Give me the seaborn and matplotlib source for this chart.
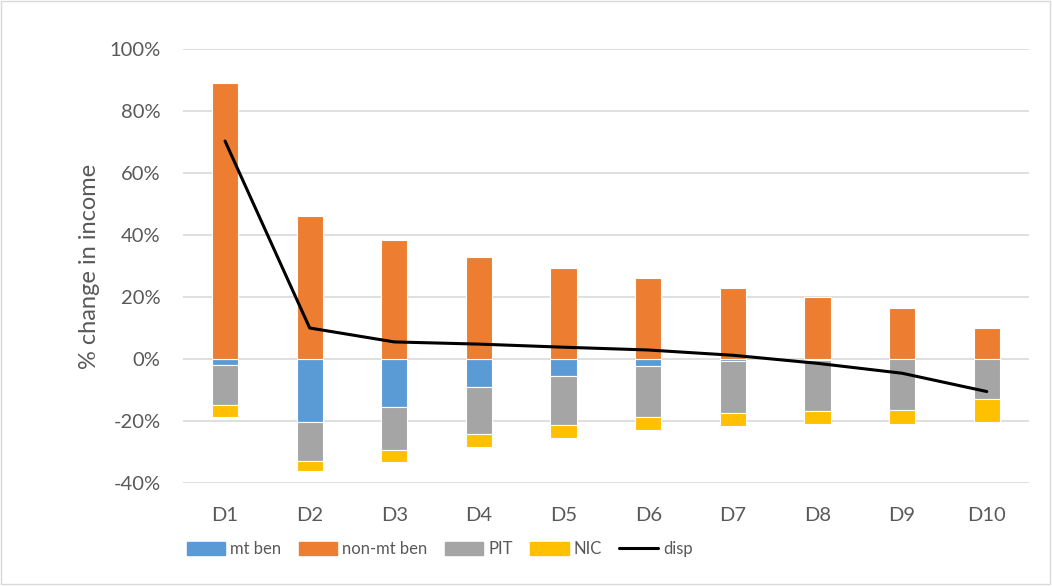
import numpy as np
import pandas as pd
import matplotlib
matplotlib.use("Agg")
import matplotlib.pyplot as plt
import matplotlib.patches as mpatches
import matplotlib.lines as mlines
import seaborn as sns
from matplotlib.ticker import FuncFormatter

# deciles and the % change in income per component
deciles = ["D1", "D2", "D3", "D4", "D5", "D6", "D7", "D8", "D9", "D10"]
mt_ben = [-2.0, -20.2, -15.5, -9.0, -5.5, -2.3, -0.6, -0.2, -0.1, -0.1]
non_mt_ben = [89.0, 46.0, 38.4, 33.0, 29.4, 26.0, 22.9, 19.9, 16.5, 9.9]
pit = [-12.8, -12.7, -13.9, -15.3, -15.8, -16.3, -16.7, -16.6, -16.4, -12.8]
nic = [-3.8, -3.1, -3.7, -4.0, -4.3, -4.3, -4.3, -4.3, -4.6, -7.5]
disp = [70.3, 10.0, 5.5, 4.8, 3.8, 2.9, 1.2, -1.4, -4.6, -10.5]

series_names = ["mt ben", "non-mt ben", "PIT", "NIC", "disp"]
colours = ["#5B9BD5", "#ED7D31", "#A5A5A5", "#FFC000", "#000000"]

sns.set_style("white")
plt.rcParams["font.family"] = ["Lato", "DejaVu Sans"]

fig = plt.figure(figsize=(10.52, 5.86), dpi=100)
ax = fig.add_axes([0.1737, 0.1758, 0.8045, 0.7406])

df = pd.DataFrame({"decile": deciles, "mt": mt_ben, "nonmt": non_mt_ben,
                   "pit": pit, "nic": nic, "disp": disp})
df["pit_base"] = df["mt"]
df["nic_base"] = df["mt"] + df["pit"]

bar_kw = dict(width=0.31, edgecolor="white", linewidth=0.8, saturation=1, ax=ax, zorder=2)
sns.barplot(data=df, x="decile", y="mt", color=colours[0], **bar_kw)
sns.barplot(data=df, x="decile", y="nonmt", color=colours[1], **bar_kw)
sns.barplot(data=df, x="decile", y="pit", bottom=df["pit_base"], color=colours[2], **bar_kw)
sns.barplot(data=df, x="decile", y="nic", bottom=df["nic_base"], color=colours[3], **bar_kw)
sns.lineplot(x=np.arange(len(deciles)), y=df["disp"], color=colours[4], linewidth=2.2,
             ax=ax, zorder=3)

ax.set_xlim(-0.5, len(deciles) - 0.5)
ax.set_ylim(-40, 100)
ax.set_yticks(np.arange(-40, 101, 20))
ax.yaxis.set_major_formatter(FuncFormatter(lambda v, p: f"{v:.0f}%"))
ax.grid(axis="y", color="#D9D9D9", linewidth=1.2, zorder=0)
ax.set_axisbelow(True)
for s in ax.spines.values():
    s.set_visible(False)
ax.tick_params(axis="both", length=0, labelsize=14.5, colors="#595959")
ax.tick_params(axis="y", pad=16)
ax.tick_params(axis="x", pad=17)
ax.set_xlabel("")
ax.set_ylabel("% change in income", fontsize=17, color="#595959", labelpad=7)

handles = [mpatches.Patch(color=c, label=n) for c, n in zip(colours[:4], series_names[:4])]
handles.append(mlines.Line2D([], [], color=colours[4], linewidth=2.2, label=series_names[4]))
fig.legend(handles=handles, loc="center", bbox_to_anchor=(0.418, 0.063), ncol=5,
           frameon=False, fontsize=12, labelcolor="#595959", handlelength=2.3,
           handleheight=0.85, columnspacing=1.05, handletextpad=0.3)

fig.patches.append(mpatches.Rectangle((0.001, 0.003), 0.997, 0.995, transform=fig.transFigure,
                                      fill=False, edgecolor="#D9D9D9", linewidth=1))

fig.savefig("out.png", dpi=100)
